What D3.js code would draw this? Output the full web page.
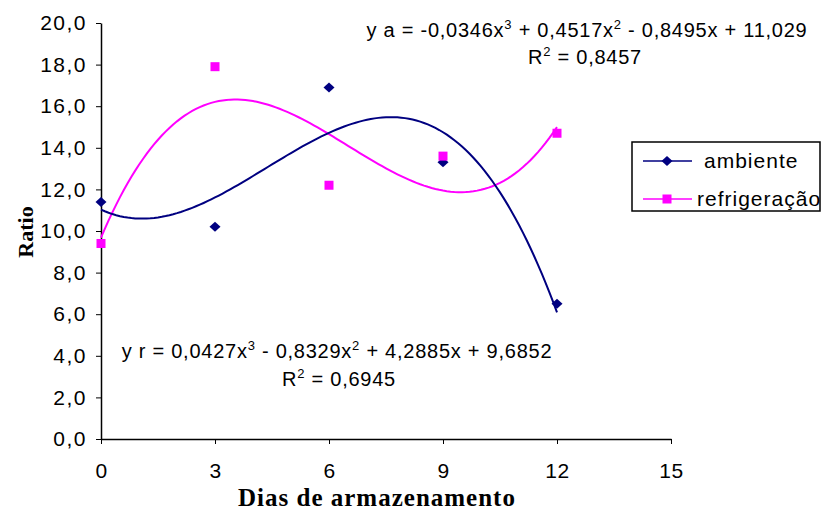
<!DOCTYPE html>
<html>
<head>
  <style>
  body { margin: 0; background: #fff; }
  svg text { font-family: "Liberation Sans", Arial, sans-serif; fill: #000; }
  .axis path, .axis line { stroke: #000; }
  .title { font-family: "Liberation Serif", "Times New Roman", serif !important; font-weight: bold; }
  .eq { font-size: 20px; letter-spacing: 0.75px; }
  </style>
</head>
<body>
  <div id="chart"></div>
  <script src="https://d3js.org/d3.v7.min.js"></script>
  <script>
  // data
  var days = [0, 3, 6, 9, 12];
  var ambiente = [11.4, 10.2, 16.9, 13.3, 6.5];
  var refrigeracao = [9.4, 17.9, 12.2, 13.6, 14.7];
  // trendline coefficients as printed on the chart (x^3, x^2, x, c)
  var coefA = [-0.0346, 0.4517, -0.8495, 11.029];
  var coefR = [0.0427, -0.8329, 4.2885, 9.6852];
  var xTicks = [0, 3, 6, 9, 12, 15];
  var yTicks = [0, 2, 4, 6, 8, 10, 12, 14, 16, 18, 20];

  var W = 821, H = 512;
  var svg = d3.select("#chart").append("svg").attr("width", W).attr("height", H);

  var x = d3.scaleLinear().domain([0, 15]).range([101, 671]);
  var y = d3.scaleLinear().domain([0, 20]).range([439, 23]);
  var fmt = function(d){ return d.toFixed(1).replace(".", ","); };

  var yAxis = svg.append("g").attr("class", "axis")
      .attr("transform", "translate(" + x(0) + ",0)")
      .call(d3.axisLeft(y).tickValues(yTicks).tickFormat(fmt).tickSize(5).tickSizeOuter(0).tickPadding(9));
  yAxis.selectAll("text").style("font-size", "21px").style("letter-spacing", "1.5px");

  var xAxis = svg.append("g").attr("class", "axis")
      .attr("transform", "translate(0," + y(0) + ")")
      .call(d3.axisBottom(x).tickValues(xTicks).tickSize(5).tickSizeOuter(0).tickPadding(19));
  xAxis.selectAll("text").style("font-size", "21px").style("letter-spacing", "0.5px");
  svg.selectAll(".axis path").attr("stroke-width", 1.5);

  svg.append("text").attr("class", "title")
      .attr("x", 377).attr("y", 506).attr("text-anchor", "middle")
      .style("font-size", "25px").style("letter-spacing", "1px")
      .text("Dias de armazenamento");
  svg.append("text").attr("class", "title")
      .attr("transform", "translate(33,232) rotate(-90)").attr("text-anchor", "middle")
      .style("font-size", "22px")
      .text("Ratio");

  function poly(c, t){ return ((c[0] * t + c[1]) * t + c[2]) * t + c[3]; }
  var steps = d3.range(0, 12.001, 0.1);

  function trend(c, color){
    svg.append("path")
        .datum(steps)
        .attr("fill", "none").attr("stroke", color).attr("stroke-width", 2)
        .attr("d", d3.line().x(function(t){ return x(t); }).y(function(t){ return y(poly(c, t)); }));
  }
  trend(coefR, "#ff00ff");
  trend(coefA, "#000080");

  // Excel-style diamond, a bit wider than tall
  var wideDiamond = {
    draw: function(ctx){
      ctx.moveTo(0, -5); ctx.lineTo(5.5, 0); ctx.lineTo(0, 5); ctx.lineTo(-5.5, 0); ctx.closePath();
    }
  };
  var diamond = d3.symbol().type(wideDiamond);
  svg.selectAll(".pa").data(days).enter().append("path")
      .attr("transform", function(d, i){ return "translate(" + x(d) + "," + y(ambiente[i]) + ")"; })
      .attr("d", diamond).attr("fill", "#000080");
  svg.selectAll(".pr").data(days).enter().append("rect")
      .attr("x", function(d){ return x(d) - 4.5; })
      .attr("y", function(d, i){ return y(refrigeracao[i]) - 4.5; })
      .attr("width", 9).attr("height", 9).attr("fill", "#ff00ff");

  // equations
  function sup(s){ return "<tspan dy='-8' font-size='13'>" + s + "</tspan>"; }
  function back(s){ return "<tspan dy='8'>" + s + "</tspan>"; }
  svg.append("text").attr("class", "eq").attr("x", 587).attr("y", 37).attr("text-anchor", "middle")
      .html("y a = -0,0346x" + sup("3") + back(" + 0,4517x") + sup("2") + back(" - 0,8495x + 11,029"));
  svg.append("text").attr("class", "eq").attr("x", 585).attr("y", 64).attr("text-anchor", "middle")
      .html("R" + sup("2") + back(" = 0,8457"));
  svg.append("text").attr("class", "eq").attr("x", 337).attr("y", 358).attr("text-anchor", "middle")
      .html("y r = 0,0427x" + sup("3") + back(" - 0,8329x") + sup("2") + back(" + 4,2885x + 9,6852"));
  svg.append("text").attr("class", "eq").attr("x", 339).attr("y", 386).attr("text-anchor", "middle")
      .html("R" + sup("2") + back(" = 0,6945"));

  // legend
  var lg = svg.append("g");
  lg.append("rect").attr("x", 632).attr("y", 142).attr("width", 188).attr("height", 69)
      .attr("fill", "#fff").attr("stroke", "#000").attr("stroke-width", 1.5);
  var items = [{name: "ambiente", color: "#000080", y: 161, tx: 704}, {name: "refrigeração", color: "#ff00ff", y: 199, tx: 697}];
  items.forEach(function(d, i){
    lg.append("line").attr("x1", 643).attr("x2", 692).attr("y1", d.y).attr("y2", d.y)
        .attr("stroke", d.color).attr("stroke-width", 1.5);
    if (i == 0) {
      lg.append("path").attr("transform", "translate(667," + d.y + ")").attr("d", diamond).attr("fill", d.color);
    } else {
      lg.append("rect").attr("x", 662.5).attr("y", d.y - 4.5).attr("width", 9).attr("height", 9).attr("fill", d.color);
    }
    lg.append("text").attr("x", d.tx).attr("y", d.y + 7).style("font-size", "21px").style("letter-spacing", "1px").text(d.name);
  });
  </script>
</body>
</html>
